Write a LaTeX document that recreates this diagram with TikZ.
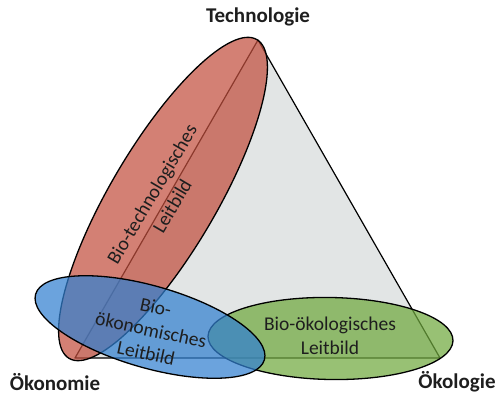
\documentclass[tikz,border=0pt]{standalone}
\usepackage{fontspec}
\setmainfont{Carlito}
\usetikzlibrary{shapes.geometric}
\definecolor{techred}{RGB}{194,79,62}
\definecolor{oekoblue}{RGB}{50,128,208}
\definecolor{ecogreen}{RGB}{112,169,62}
\definecolor{basegray}{RGB}{226,229,229}
\definecolor{ink}{RGB}{30,30,30}
\begin{document}
\begin{tikzpicture}[x=1pt,y=1pt,
  blob/.style={ellipse, draw=black, line width=1.3pt, fill opacity=0.72,
    text opacity=1, inner sep=0pt, outer sep=0pt},
  corner/.style={font=\bfseries\fontsize{21}{25}\selectfont, text=ink},
  leitbild/.style={font=\fontsize{19.5}{23.5}\selectfont, align=center, text=ink}]
\useasboundingbox (0,0) rectangle (497,396);

% triangle of the three dimensions
\coordinate (T) at (258,356);
\coordinate (L) at (75,38);
\coordinate (R) at (440,38);
\filldraw[fill=basegray, draw=black, line width=1.2pt, line join=round] (T) -- (L) -- (R) -- cycle;

% the three guiding visions
\node[blob, fill=techred, minimum width=370pt, minimum height=106pt, rotate=59.5] (tech) at (163,197) {};
\node[blob, fill=ecogreen, minimum width=245pt, minimum height=82pt, rotate=-1] (eco) at (330.5,57.5) {};
\node[blob, fill=oekoblue, minimum width=238pt, minimum height=82pt, rotate=-16] (oeko) at (150,69) {};

\node[leitbild, rotate=59.5] (techtxt) at (162,196) {Bio-technologisches\\Leitbild};
\node[leitbild] (ecotxt) at (330,60) {Bio-ökologisches\\Leitbild};
\node[leitbild, rotate=-12] (oekotxt) at (151,66) {Bio-\\ökonomisches\\Leitbild};

% corner labels
\node[corner] (technologie) at (258,379) {Technologie};
\node[corner] (oekonomie) at (55,14) {Ökonomie};
\node[corner] (oekologie) at (457,14) {Ökologie};
\end{tikzpicture}
\end{document}
